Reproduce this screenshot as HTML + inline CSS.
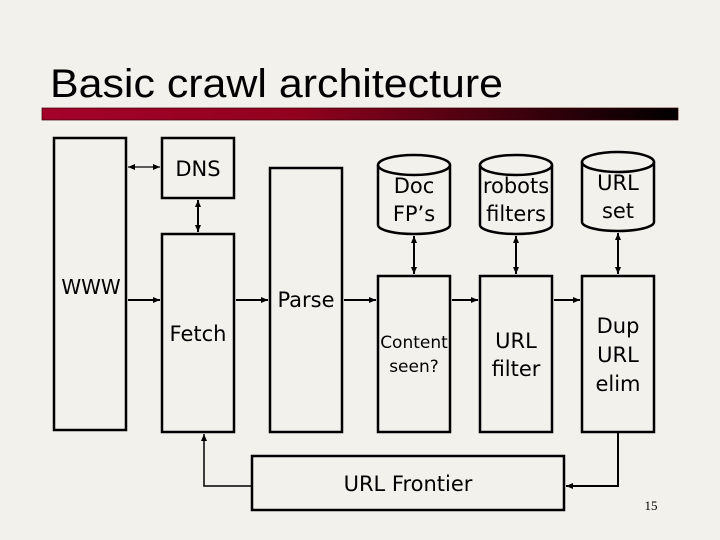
<!DOCTYPE html>
<html><head><meta charset="utf-8"><style>
html,body{margin:0;padding:0;background:#f3f1ec;}
svg{display:block;}
text{font-family:"DejaVu Sans","Liberation Sans",sans-serif;fill:#000;}
</style></head><body>
<svg width="720" height="540" viewBox="0 0 720 540" xmlns="http://www.w3.org/2000/svg">
<defs>
<linearGradient id="g" x1="0" x2="1" y1="0" y2="0">
<stop offset="0" stop-color="#a4022a"/><stop offset="0.4" stop-color="#92021f"/><stop offset="1" stop-color="#000"/>
</linearGradient>
<marker id="a" markerWidth="8" markerHeight="8" refX="7" refY="4" orient="auto" markerUnits="userSpaceOnUse">
<path d="M0,1 L7,4 L0,7 z" fill="#000"/></marker>
<marker id="s" markerWidth="8" markerHeight="8" refX="1" refY="4" orient="auto" markerUnits="userSpaceOnUse">
<path d="M8,1 L1,4 L8,7 z" fill="#000"/></marker>
</defs>
<rect width="720" height="540" fill="#f3f1ec"/>
<text x="50" y="97" font-size="40" textLength="453" lengthAdjust="spacingAndGlyphs" style="font-family:'Liberation Sans',sans-serif">Basic crawl architecture</text>
<rect x="42" y="108" width="636" height="12" fill="url(#g)" stroke="#300" stroke-width="0.7"/>
<g fill="none" stroke="#000" stroke-width="2.5">
<rect x="54" y="138" width="72" height="292"/>
<rect x="162" y="138" width="72" height="60"/>
<rect x="162" y="234" width="72" height="198"/>
<rect x="270" y="168" width="72" height="264"/>
<rect x="378" y="276" width="72" height="156"/>
<rect x="480" y="276" width="72" height="156"/>
<rect x="582" y="276" width="72" height="156"/>
<rect x="252" y="456" width="312" height="54"/>
<!-- cylinders -->
<path d="M378,165 v60 a36,9 0 0 0 72,0 v-60"/><ellipse cx="414" cy="165" rx="36" ry="10"/>
<path d="M480,165 v60 a36,9 0 0 0 72,0 v-60"/><ellipse cx="516" cy="165" rx="36" ry="10"/>
<path d="M582,162 v60 a36,9 0 0 0 72,0 v-60"/><ellipse cx="618" cy="162" rx="36" ry="10"/>
</g>
<g stroke="#000" stroke-width="2" fill="none">
<line x1="128" y1="167" x2="160" y2="167" stroke-width="1.2" marker-start="url(#s)" marker-end="url(#a)"/>
<line x1="198" y1="200" x2="198" y2="232" marker-start="url(#s)" marker-end="url(#a)"/>
<line x1="128" y1="300" x2="160" y2="300" marker-end="url(#a)"/>
<line x1="236" y1="300" x2="268" y2="300" marker-end="url(#a)"/>
<line x1="344" y1="300" x2="376" y2="300" marker-end="url(#a)"/>
<line x1="452" y1="300" x2="478" y2="300" marker-end="url(#a)"/>
<line x1="554" y1="300" x2="580" y2="300" marker-end="url(#a)"/>
<line x1="414" y1="236" x2="414" y2="274" marker-start="url(#s)" marker-end="url(#a)"/>
<line x1="516" y1="236" x2="516" y2="274" marker-start="url(#s)" marker-end="url(#a)"/>
<line x1="618" y1="233" x2="618" y2="274" marker-start="url(#s)" marker-end="url(#a)"/>
<polyline points="618,432 618,486 566,486" marker-end="url(#a)"/>
<polyline points="252,486 204,486 204,434" stroke-width="1.5" marker-end="url(#a)"/>
</g>
<g font-size="21" text-anchor="middle">
<text x="198" y="176">DNS</text>
<text x="91" y="294" font-size="20">WWW</text>
<text x="198" y="341">Fetch</text>
<text x="306" y="307">Parse</text>
<text x="414" y="193">Doc</text><text x="414" y="221">FP’s</text>
<text x="516" y="193">robots</text><text x="516" y="221">filters</text>
<text x="618" y="190">URL</text><text x="618" y="218">set</text>
<text x="414" y="348" font-size="17">Content</text><text x="414" y="372" font-size="17">seen?</text>
<text x="516" y="348">URL</text><text x="516" y="376">filter</text>
<text x="618" y="333">Dup</text><text x="618" y="362">URL</text><text x="618" y="391">elim</text>
<text x="408" y="491">URL Frontier</text>
</g>
<text x="651" y="510" font-size="13" text-anchor="middle" style="font-family:'Liberation Serif',serif">15</text>
</svg>
</body></html>
